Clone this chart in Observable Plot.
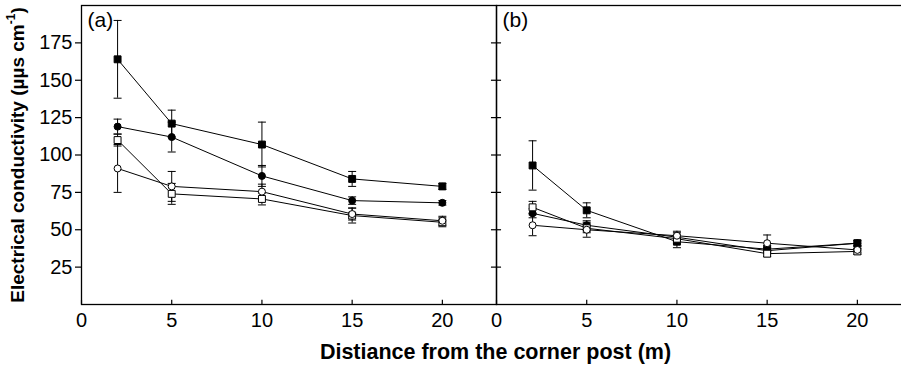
<!DOCTYPE html>
<html><head><meta charset="utf-8">
<script src="https://cdn.jsdelivr.net/npm/d3@7"></script>
<script src="https://cdn.jsdelivr.net/npm/@observablehq/plot@0.6"></script>
<style>
html,body{margin:0;padding:0;background:#fff;overflow:hidden;width:901px;height:371px}
#wrap{position:relative;width:911px;height:371px}
#xtitle{position:absolute;left:80px;width:831px;top:340px;text-align:center;font:bold 21.5px "Liberation Sans",Arial,sans-serif;color:#000}
#ytitle{position:absolute;left:18px;top:155px;transform:translate(-50%,-50%) rotate(-90deg);white-space:nowrap;font:bold 19px "Liberation Sans",Arial,sans-serif;color:#000}
#ytitle sup{font-size:12px;vertical-align:9px;line-height:0}
</style></head><body><div id="wrap"><div id="chart"></div>
<div id="ytitle">Electrical conductivity (µµs cm<sup>-1</sup>)</div>
<div id="xtitle">Distiance from the corner post (m)</div></div>
<script>
const distances = [2, 5, 10, 15, 20];
const panels = ["(a)", "(b)"];
const seriesNames = ["Filled square", "Filled circle", "Open square", "Open circle"];
const xTicks = [0, 5, 10, 15, 20];
const yTicks = [25, 50, 75, 100, 125, 150, 175];

// Panel (a)
const a_filledSquare = [164, 121, 107, 84, 79];
const a_filledSquareErr = [26, 9, 15, 5, 2];
const a_filledCircle = [119, 112, 86, 69.5, 68];
const a_filledCircleErr = [5, 10, 7, 2.5, 1.5];
const a_openSquare = [110, 74, 70.6, 59.5, 55];
const a_openSquareErr = [4, 7, 4, 5, 3];
const a_openCircle = [91, 79, 75.5, 60.5, 56];
const a_openCircleErr = [16, 10, 5, 4, 3];

// Panel (b)
const b_filledSquare = [93, 63, 42, 37, 41];
const b_filledSquareErr = [16.5, 5, 4, 2.5, 2];
const b_filledCircle = [61, 53, 45, 36, 41];
const b_filledCircleErr = [3, 3, 3, 2, 1.5];
const b_openSquare = [65, 51, 44, 34, 35.5];
const b_openSquareErr = [4, 3, 3, 2, 2];
const b_openCircle = [53, 50, 46, 41, 36.5];
const b_openCircleErr = [7, 5, 3, 5.5, 2];

const panelValues = {
  "(a)": [[a_filledSquare, a_filledSquareErr], [a_filledCircle, a_filledCircleErr], [a_openSquare, a_openSquareErr], [a_openCircle, a_openCircleErr]],
  "(b)": [[b_filledSquare, b_filledSquareErr], [b_filledCircle, b_filledCircleErr], [b_openSquare, b_openSquareErr], [b_openCircle, b_openCircleErr]]
};
const seriesStyle = {
  "Filled square": {symbol: "square", fill: "black", r: 3.9},
  "Filled circle": {symbol: "circle", fill: "black", r: 3.5},
  "Open square": {symbol: "square", fill: "white", r: 3.9},
  "Open circle": {symbol: "circle", fill: "white", r: 3.5}
};

const rows = [];
for (const p of panels) {
  seriesNames.forEach((s, si) => {
    const [vals, errs] = panelValues[p][si];
    distances.forEach((d, i) => rows.push({panel: p, series: s, x: d, v: vals[i], e: errs[i]}));
  });
}

const cap = {draw(ctx) { ctx.moveTo(-4, 0); ctx.lineTo(4, 0); }};

const dotMarks = seriesNames.map(s => Plot.dot(rows.filter(d => d.series === s), {
  x: "x", y: "v", fx: "panel", symbol: seriesStyle[s].symbol, r: seriesStyle[s].r,
  fill: seriesStyle[s].fill, stroke: "black", strokeWidth: 1
}));

const chart = Plot.plot({
  width: 911, height: 340,
  marginLeft: 80, marginRight: 0, marginTop: 5, marginBottom: 36,
  x: {domain: [0, 23]},
  y: {domain: [0, 200]},
  fx: {domain: panels, padding: 0, axis: null},
  style: {fontFamily: "'Liberation Sans', Arial, sans-serif", fontSize: "20px", color: "black", background: "white", overflow: "visible"},
  marks: [
    Plot.frame({stroke: "black", strokeWidth: 1.3}),
    Plot.axisY({ticks: yTicks, tickSize: 6, tickPadding: 3, label: null, strokeWidth: 1.2}),
    Plot.ruleY(yTicks, {y: d => d, fx: () => "(b)", x1: -0.28, x2: 0.28, strokeWidth: 1.2}),
    Plot.axisX({ticks: xTicks, tickSize: 0, tickPadding: 8, label: null}),
    Plot.ruleX(xTicks, {x: d => d, y1: 0, y2: 2.8, strokeWidth: 1.2}),
    Plot.text(panels, {fx: d => d, text: d => d, frameAnchor: "top-left", dx: 6, dy: 7, lineAnchor: "top", textAnchor: "start", fontSize: 21}),
    Plot.line(rows, {x: "x", y: "v", z: "series", fx: "panel", stroke: "black", strokeWidth: 1}),
    Plot.ruleX(rows, {x: "x", y1: d => d.v - d.e, y2: d => d.v + d.e, fx: "panel", stroke: "black", strokeWidth: 1}),
    Plot.dot(rows, {x: "x", y: d => d.v + d.e, fx: "panel", symbol: cap, fill: "none", stroke: "black", strokeWidth: 1}),
    Plot.dot(rows, {x: "x", y: d => d.v - d.e, fx: "panel", symbol: cap, fill: "none", stroke: "black", strokeWidth: 1}),
    ...dotMarks
  ]
});
document.getElementById("chart").append(chart);
</script></body></html>
